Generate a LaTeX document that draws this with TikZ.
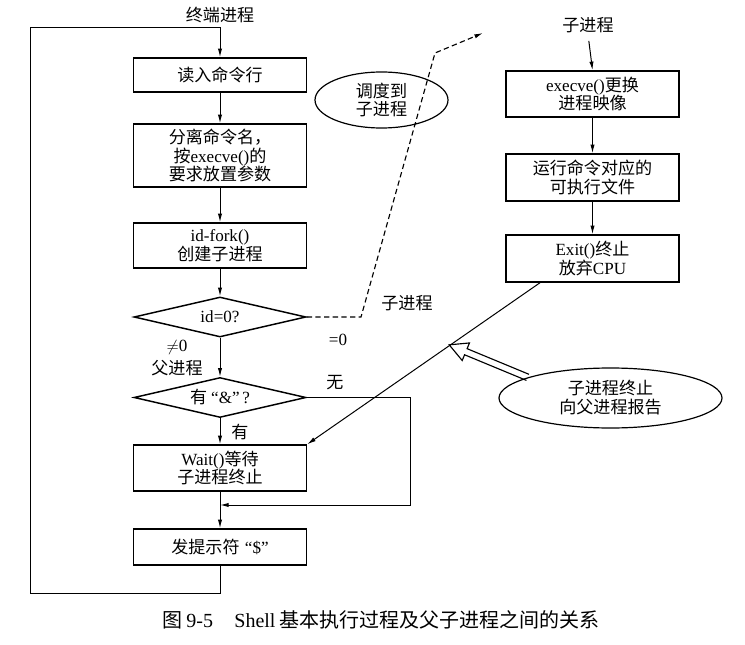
\documentclass[tikz,border=0pt]{standalone}
\usepackage{fontspec}
\setmainfont{Liberation Serif}
\newfontfamily\cjk{Noto Sans CJK SC}
\usetikzlibrary{shapes.geometric,arrows.meta,calc}
\newcommand\zh[1]{{\cjk #1}}
\begin{document}
\begin{tikzpicture}[x=0.75pt,y=-0.75pt,
  font=\fontsize{12.8}{14.2}\selectfont,
  box/.style={draw, line width=1.1pt, minimum width=173*0.75pt, align=center, inner sep=0pt},
  dia/.style={draw, diamond, aspect=4.3, line width=1.1pt, minimum width=172*0.75pt, minimum height=40*0.75pt, inner sep=0pt},
  oval/.style={draw, ellipse, line width=0.9pt, align=center, inner sep=0pt},
  lbl/.style={inner sep=1pt, align=center},
  ln/.style={line width=0.75pt},
  arr/.style={ln, -{Latex[length=6.5pt,width=3.2pt]}},
  dsh/.style={line width=0.85pt, dash pattern=on 4pt off 2.5pt}]
\useasboundingbox[fill=white] (0,0) rectangle (745,645);

% left column
\node[box, minimum height=34*0.75pt] (b1) at (220,75) {\zh{读入命令行}};
\node[box, minimum height=63*0.75pt] (b2) at (220,155.5) {\zh{分离命令名，}\\\zh{按}execve()\zh{的}\\\zh{要求放置参数}};
\node[box, minimum height=45*0.75pt] (b3) at (220,245.5) {id-fork()\\\zh{创建子进程}};
\node[dia] (d1) at (220,317) {id=0?};
\node[dia] (d2) at (220,397.5) {\zh{有}\hspace{3pt}“\&”\hspace{2pt}?};
\node[box, minimum height=46*0.75pt] (b4) at (220,468) {Wait()\zh{等待}\\\zh{子进程终止}};
\node[box, minimum height=36*0.75pt] (b5) at (220,547) {\zh{发提示符}\hspace{4pt}“\$”};

% right column
\node[box, minimum height=46*0.75pt] (r1) at (592.5,94) {execve()\zh{更换}\\\zh{进程映像}};
\node[box, minimum height=47*0.75pt] (r2) at (592.5,177.5) {\zh{运行命令对应的}\\\zh{可执行文件}};
\node[box, minimum height=47*0.75pt] (r3) at (592.5,258.5) {Exit()\zh{终止}\\\zh{放弃}CPU};

% ellipses
\node[oval, minimum width=133*0.75pt, minimum height=56*0.75pt] (e1) at (381.5,100) {\zh{调度到}\\\zh{子进程}};
\node[oval, minimum width=223*0.75pt, minimum height=60*0.75pt] (e2) at (610.5,398) {\zh{子进程终止}\\\zh{向父进程报告}};

% labels
\node[lbl] (t1) at (220,15) {\zh{终端进程}};
\node[lbl] (t2) at (588,25) {\zh{子进程}};
\node[lbl] (t3) at (407,303) {\zh{子进程}};
\node[lbl] (t4) at (338,340) {=0};
\node[lbl] (t5) at (335,383) {\zh{无}};
\node[lbl] (t6) at (177,347) {$\neq$0};
\node[lbl] (t7) at (177,368) {\zh{父进程}};
\node[lbl] (t8) at (240,432) {\zh{有}};
\node[lbl, font=\fontsize{15}{18}\selectfont] (cap) at (381,620) {\zh{图}\hspace{3pt}9-5\hspace{16pt}Shell\hspace{3pt}\zh{基本执行过程及父子进程之间的关系}};

% helper coordinates
\coordinate (lb) at (30,593);
\coordinate (lt) at (30,28);
\coordinate (nr) at (410,505);
\coordinate (mg) at (220,505);
\coordinate (da) at (361,317);
\coordinate (db) at (435,53);
\coordinate (dc) at (483,33);
\coordinate (rs) at ([xshift=-52.5*0.75pt]r3.south);
\coordinate (hp) at ($(rs)!0.388!(b4.north east)$);

% connectors
\draw[arr] (b1.south) -- (b2.north);
\draw[arr] (b2.south) -- (b3.north);
\draw[arr] (b3.south) -- (d1.north);
\draw[arr] (d1.south) -- (d2.north);
\draw[arr] (d2.south) -- (b4.north);
\draw[arr] (b4.south) -- (b5.north);
\draw[arr] (b5.south) |- (lb) -- (lt) -| (b1.north);
\draw[arr] (d2.east) -| (nr) -- (mg);
\draw[arr, dsh] (d1.east) -- (da) -- (db) -- (dc);
\draw[arr, shorten <=5pt] (t2.south) -- (r1.north);
\draw[arr] (r1.south) -- (r2.north);
\draw[arr] (r2.south) -- (r3.north);
\draw[arr] (rs) -- (b4.north east);

% hollow arrow
\begin{scope}[shift={(e2.166)}, rotate=157.5]
  \draw[line width=0.85pt, line join=miter] (0,-3.3) -- (67,-3.3) -- (67,-9.5) -- (85,0) -- (67,9.5) -- (67,3.3) -- (0,3.3);
\end{scope}
\end{tikzpicture}
\end{document}
